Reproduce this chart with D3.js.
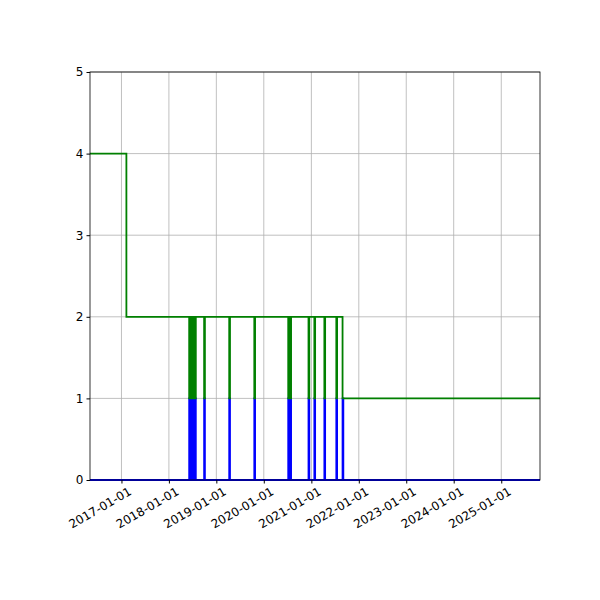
<!DOCTYPE html>
<html><head><meta charset="utf-8">
<script src="https://cdn.jsdelivr.net/npm/d3@7"></script>
<style>body{margin:0;background:#fff}text{font-family:"DejaVu Sans";font-size:12px}</style>
</head><body><div id="chart"></div>
<script>
// dips: [start, end] of each short event
const eventStarts = ['2018-06-06','2018-06-21','2018-07-06','2018-07-21','2018-09-29','2019-04-10','2019-10-20','2020-07-07','2020-07-23','2020-12-10','2021-01-24','2021-04-11','2021-07-12'];
const eventEnds   = ['2018-06-12','2018-06-27','2018-07-12','2018-07-27','2018-10-05','2019-04-16','2019-10-26','2020-07-13','2020-07-29','2020-12-16','2021-01-30','2021-04-17','2021-07-18'];
const startDate = '2016-05-04', firstDrop = '2017-02-08', finalDrop = '2021-08-29', endDate = '2025-10-26';
const xTicks = ['2017-01-01','2018-01-01','2019-01-01','2020-01-01','2021-01-01','2022-01-01','2023-01-01','2024-01-01','2025-01-01'];
const yTicks = [0,1,2,3,4,5];

const P = d3.timeParse('%Y-%m-%d');
const width = 600, height = 600, m = {l:90, r:60, t:72, b:120};
const svg = d3.select('#chart').append('svg').attr('width', width).attr('height', height);
const x = d3.scaleTime().domain([P(startDate), P(endDate)]).range([m.l, width - m.r]);
const y = d3.scaleLinear().domain([0,5]).range([height - m.b, m.t]);

// step series
let green = [[startDate,4],[firstDrop,2]], blue = [[startDate,0]];
eventStarts.forEach((s,i) => {
  green.push([s,1],[eventEnds[i],2]);
  blue.push([s,1],[eventEnds[i],0]);
});
green.push([finalDrop,1],[endDate,1]);
blue.push([finalDrop,1],['2021-09-04',0],[endDate,0]);

// grid
const g = svg.append('g');
g.selectAll('.gx').data(xTicks).enter().append('line')
  .attr('x1', d => x(P(d))).attr('x2', d => x(P(d))).attr('y1', y(0)).attr('y2', y(5))
  .attr('stroke', '#b0b0b0').attr('stroke-width', 0.8);
g.selectAll('.gy').data(yTicks).enter().append('line')
  .attr('y1', d => y(d)).attr('y2', d => y(d)).attr('x1', m.l).attr('x2', width - m.r)
  .attr('stroke', '#b0b0b0').attr('stroke-width', 0.8);

const line = d3.line().x(d => x(P(d[0]))).y(d => y(d[1])).curve(d3.curveStepAfter);
svg.append('path').attr('d', line(blue)).attr('fill','none').attr('stroke','blue').attr('stroke-width',1.8);
svg.append('path').attr('d', line(green)).attr('fill','none').attr('stroke','green').attr('stroke-width',1.8);

svg.append('rect').attr('x', m.l).attr('y', m.t).attr('width', width-m.l-m.r).attr('height', height-m.t-m.b)
  .attr('fill','none').attr('stroke','#000').attr('stroke-width',0.8);

const xa = svg.append('g').attr('transform', `translate(0,${y(0)})`)
  .call(d3.axisBottom(x).tickValues(xTicks.map(P)).tickFormat(d3.timeFormat('%Y-%m-%d')).tickSize(3.5).tickSizeOuter(0));
xa.selectAll('text').attr('text-anchor','end').attr('x', 2).attr('dx','0').attr('dy','0.9em').attr('transform','rotate(-30)');
const ya = svg.append('g').attr('transform', `translate(${m.l},0)`)
  .call(d3.axisLeft(y).tickValues(yTicks).tickFormat(d3.format('d')).tickSize(3.5).tickSizeOuter(0));
[xa, ya].forEach(a => { a.select('.domain').remove(); a.selectAll('text').style('font-size','12px').attr('fill','#000'); });
</script></body></html>
